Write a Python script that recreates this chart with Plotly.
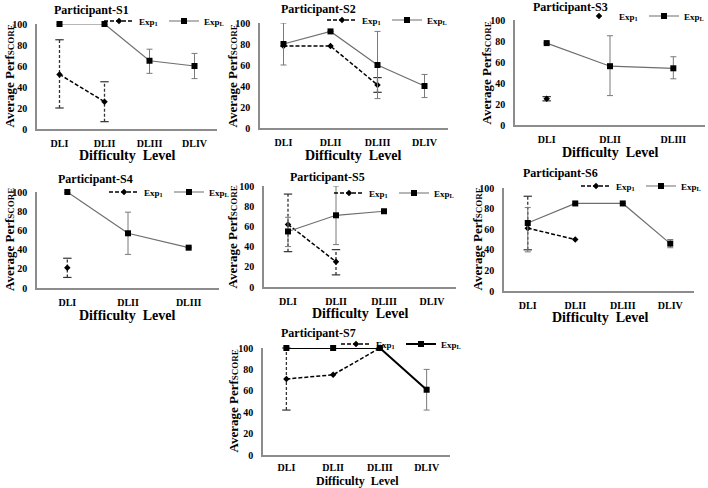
import plotly.graph_objects as go

# categories
cats4 = ["DLI", "DLII", "DLIII", "DLIV"]
cats3 = ["DLI", "DLII", "DLIII"]

participants = ["S1", "S2", "S3", "S4", "S5", "S6", "S7"]
axis_cats = [cats4, cats4, cats3, cats3, cats4, cats4, cats4]

# Exp1 series: mean, +err, -err
exp1_vals = [[52, 26], [78, 78, 41], [25], [21], [62, 25], [61, 50], [71, 75, 100]]
exp1_plus = [[33, 19], [None, None, 7], [2], [10], [30, 12], [31, None], [29, None, None]]
exp1_minus = [[32, 19], [None, None, 7], [2], [10], [27, 13], [21, None], [29, None, None]]

# ExpL series: mean, +err, -err
expl_vals = [[100, 100, 65, 60], [80, 92, 60, 40], [78, 56, 54], [100, 57, 42],
             [55, 71, 75], [66, 85, 85, 46], [100, 100, 100, 61]]
expl_plus = [[None, None, 11, 12], [20, None, 32, 11], [None, 29, 11], [None, 22, None],
             [14, 29, None], [15, None, None, 4], [None, None, None, 19]]
expl_minus = [[None, None, 12, 12], [20, None, 32, 11], [None, 28, 10], [None, 22, None],
              [15, 29, None], [28, None, None, 4], [None, None, None, 19]]

W, H = 708, 488
FONT = "Liberation Serif"


def fx(p):
    return p / W


def fy(p):
    return 1 - p / H


# pixel layout of each panel: axis x0, x1, y(100), y(0), title xy, x-title xy (+size), y-title x, legend right/ y
layout_px = [
    dict(x0=37, x1=217, yt=24, yb=129, tx=91, ty=10, xtx=127, xty=155, xfs=14, ytx=9, lx=229, ly=21, st=4),
    dict(x0=260, x1=448, yt=23, yb=128, tx=318, ty=9, xtx=353, xty=155, xfs=14, ytx=232, lx=452, ly=20, st=4),
    dict(x0=515, x1=705, yt=20, yb=125, tx=570, ty=7, xtx=610, xty=152, xfs=14, ytx=486, lx=709, ly=16, st=4),
    dict(x0=37, x1=219, yt=192, yb=288, tx=95, ty=179, xtx=127, xty=315, xfs=14, ytx=9, lx=234, ly=192, st=4),
    dict(x0=264, x1=456, yt=186, yb=287, tx=327, ty=177, xtx=360, xty=313, xfs=14, ytx=232, lx=459, ly=193, st=4),
    dict(x0=504, x1=694, yt=188, yb=291, tx=560, ty=173, xtx=600, xty=317, xfs=14, ytx=477, lx=706, ly=186, st=4),
    dict(x0=263, x1=450, yt=348, yb=455, tx=318, ty=333, xtx=357, xty=481, xfs=12, ytx=233, lx=466, ly=344, st=2),
]

fig = go.Figure()
annotations = []

for i, name in enumerate(participants):
    n = i + 1
    xa = "x" if n == 1 else f"x{n}"
    ya = "y" if n == 1 else f"y{n}"
    leg = "legend" if n == 1 else f"legend{n}"
    cats = axis_cats[i]
    p = layout_px[i]
    l_w = 2 if name == "S7" else 1.2
    l_col = "#000000" if name == "S7" else "#6e6e6e"

    # Exp1 dashed error bars (drawn as dashed segments with caps)
    ex, ey = [], []
    for j, v in enumerate(exp1_vals[i]):
        if exp1_plus[i][j] is not None:
            ex += [cats[j], cats[j], None]
            ey += [v - exp1_minus[i][j], v + exp1_plus[i][j], None]
    if ex:
        fig.add_trace(go.Scatter(
            x=ex, y=ey, xaxis=xa, yaxis=ya, mode="lines+markers",
            line=dict(color="#333333", width=1.3, dash="3px,2px"),
            marker=dict(symbol="line-ew-open", size=6, color="#333333",
                        line=dict(width=1.2, color="#333333")),
            showlegend=False, hoverinfo="skip", cliponaxis=False))

    # Exp1 series
    fig.add_trace(go.Scatter(
        x=cats[:len(exp1_vals[i])], y=exp1_vals[i], xaxis=xa, yaxis=ya,
        mode="markers" if name == "S3" else "lines+markers",
        name="Exp<sub>1</sub>", legend=leg,
        line=dict(color="#000000", width=1.5, dash="4px,2px"),
        marker=dict(symbol="diamond", size=5, color="#000000"),
        cliponaxis=False))

    # ExpL series
    fig.add_trace(go.Scatter(
        x=cats[:len(expl_vals[i])], y=expl_vals[i], xaxis=xa, yaxis=ya,
        mode="lines+markers", name="Exp<sub>L</sub>", legend=leg,
        line=dict(color=l_col, width=l_w),
        marker=dict(symbol="square", size=6, color="#000000"),
        error_y=dict(type="data", array=expl_plus[i], arrayminus=expl_minus[i],
                     symmetric=False, color="#7a7a7a", thickness=1, width=3),
        cliponaxis=False))

    axis_style = dict(showgrid=False, zeroline=False, showline=True, automargin=False,
                      linecolor="#8c8c8c", linewidth=1.5, ticks="",
                      tickfont=dict(family=FONT, size=10, color="#000000", weight="bold"))
    fig.update_layout({
        f"xaxis{'' if n == 1 else n}": dict(
            axis_style, anchor=ya, domain=[fx(p["x0"]), fx(p["x1"])],
            type="category", categoryorder="array", categoryarray=cats,
            range=[-0.5, len(cats) - 0.5], ticklabelstandoff=p["st"]),
        f"yaxis{'' if n == 1 else n}": dict(
            axis_style, anchor=xa, domain=[fy(p["yb"]), fy(p["yt"])],
            range=[0, 100], dtick=20, ticklabelstandoff=6),
        leg: dict(orientation="h", x=fx(p["lx"]), y=fy(p["ly"]),
                  xanchor="right", yanchor="middle", itemwidth=30, entrywidth=20,
                  bgcolor="rgba(0,0,0,0)", tracegroupgap=0,
                  font=dict(family=FONT, size=9, color="#000000", weight="bold")),
    })

    common = dict(xref="paper", yref="paper", showarrow=False,
                  xanchor="center", yanchor="middle")
    annotations.append(dict(
        common, text=f"<b>Participant-{name}</b>", x=fx(p["tx"]), y=fy(p["ty"]),
        font=dict(family=FONT, size=12, color="#000000")))
    annotations.append(dict(
        common, text="<b>Difficulty  Level</b>", x=fx(p["xtx"]), y=fy(p["xty"]),
        font=dict(family=FONT, size=p["xfs"], color="#000000")))
    annotations.append(dict(
        common, text="<b>Average Perf<span style='font-size:9px'>SCORE</span></b>",
        x=fx(p["ytx"]), y=fy((p["yt"] + p["yb"]) / 2), textangle=-90,
        font=dict(family=FONT, size=13, color="#000000")))

fig.update_layout(
    width=W, height=H,
    margin=dict(l=0, r=0, t=0, b=0, autoexpand=False),
    paper_bgcolor="white", plot_bgcolor="white",
    annotations=annotations,
    font=dict(family=FONT, color="#000000"),
)

# drop the browser's default 8px page margin so the figure sits at the window origin
fig.write_html("out.html", config={"displayModeBar": False},
               post_script="document.body.style.margin = '0';")
